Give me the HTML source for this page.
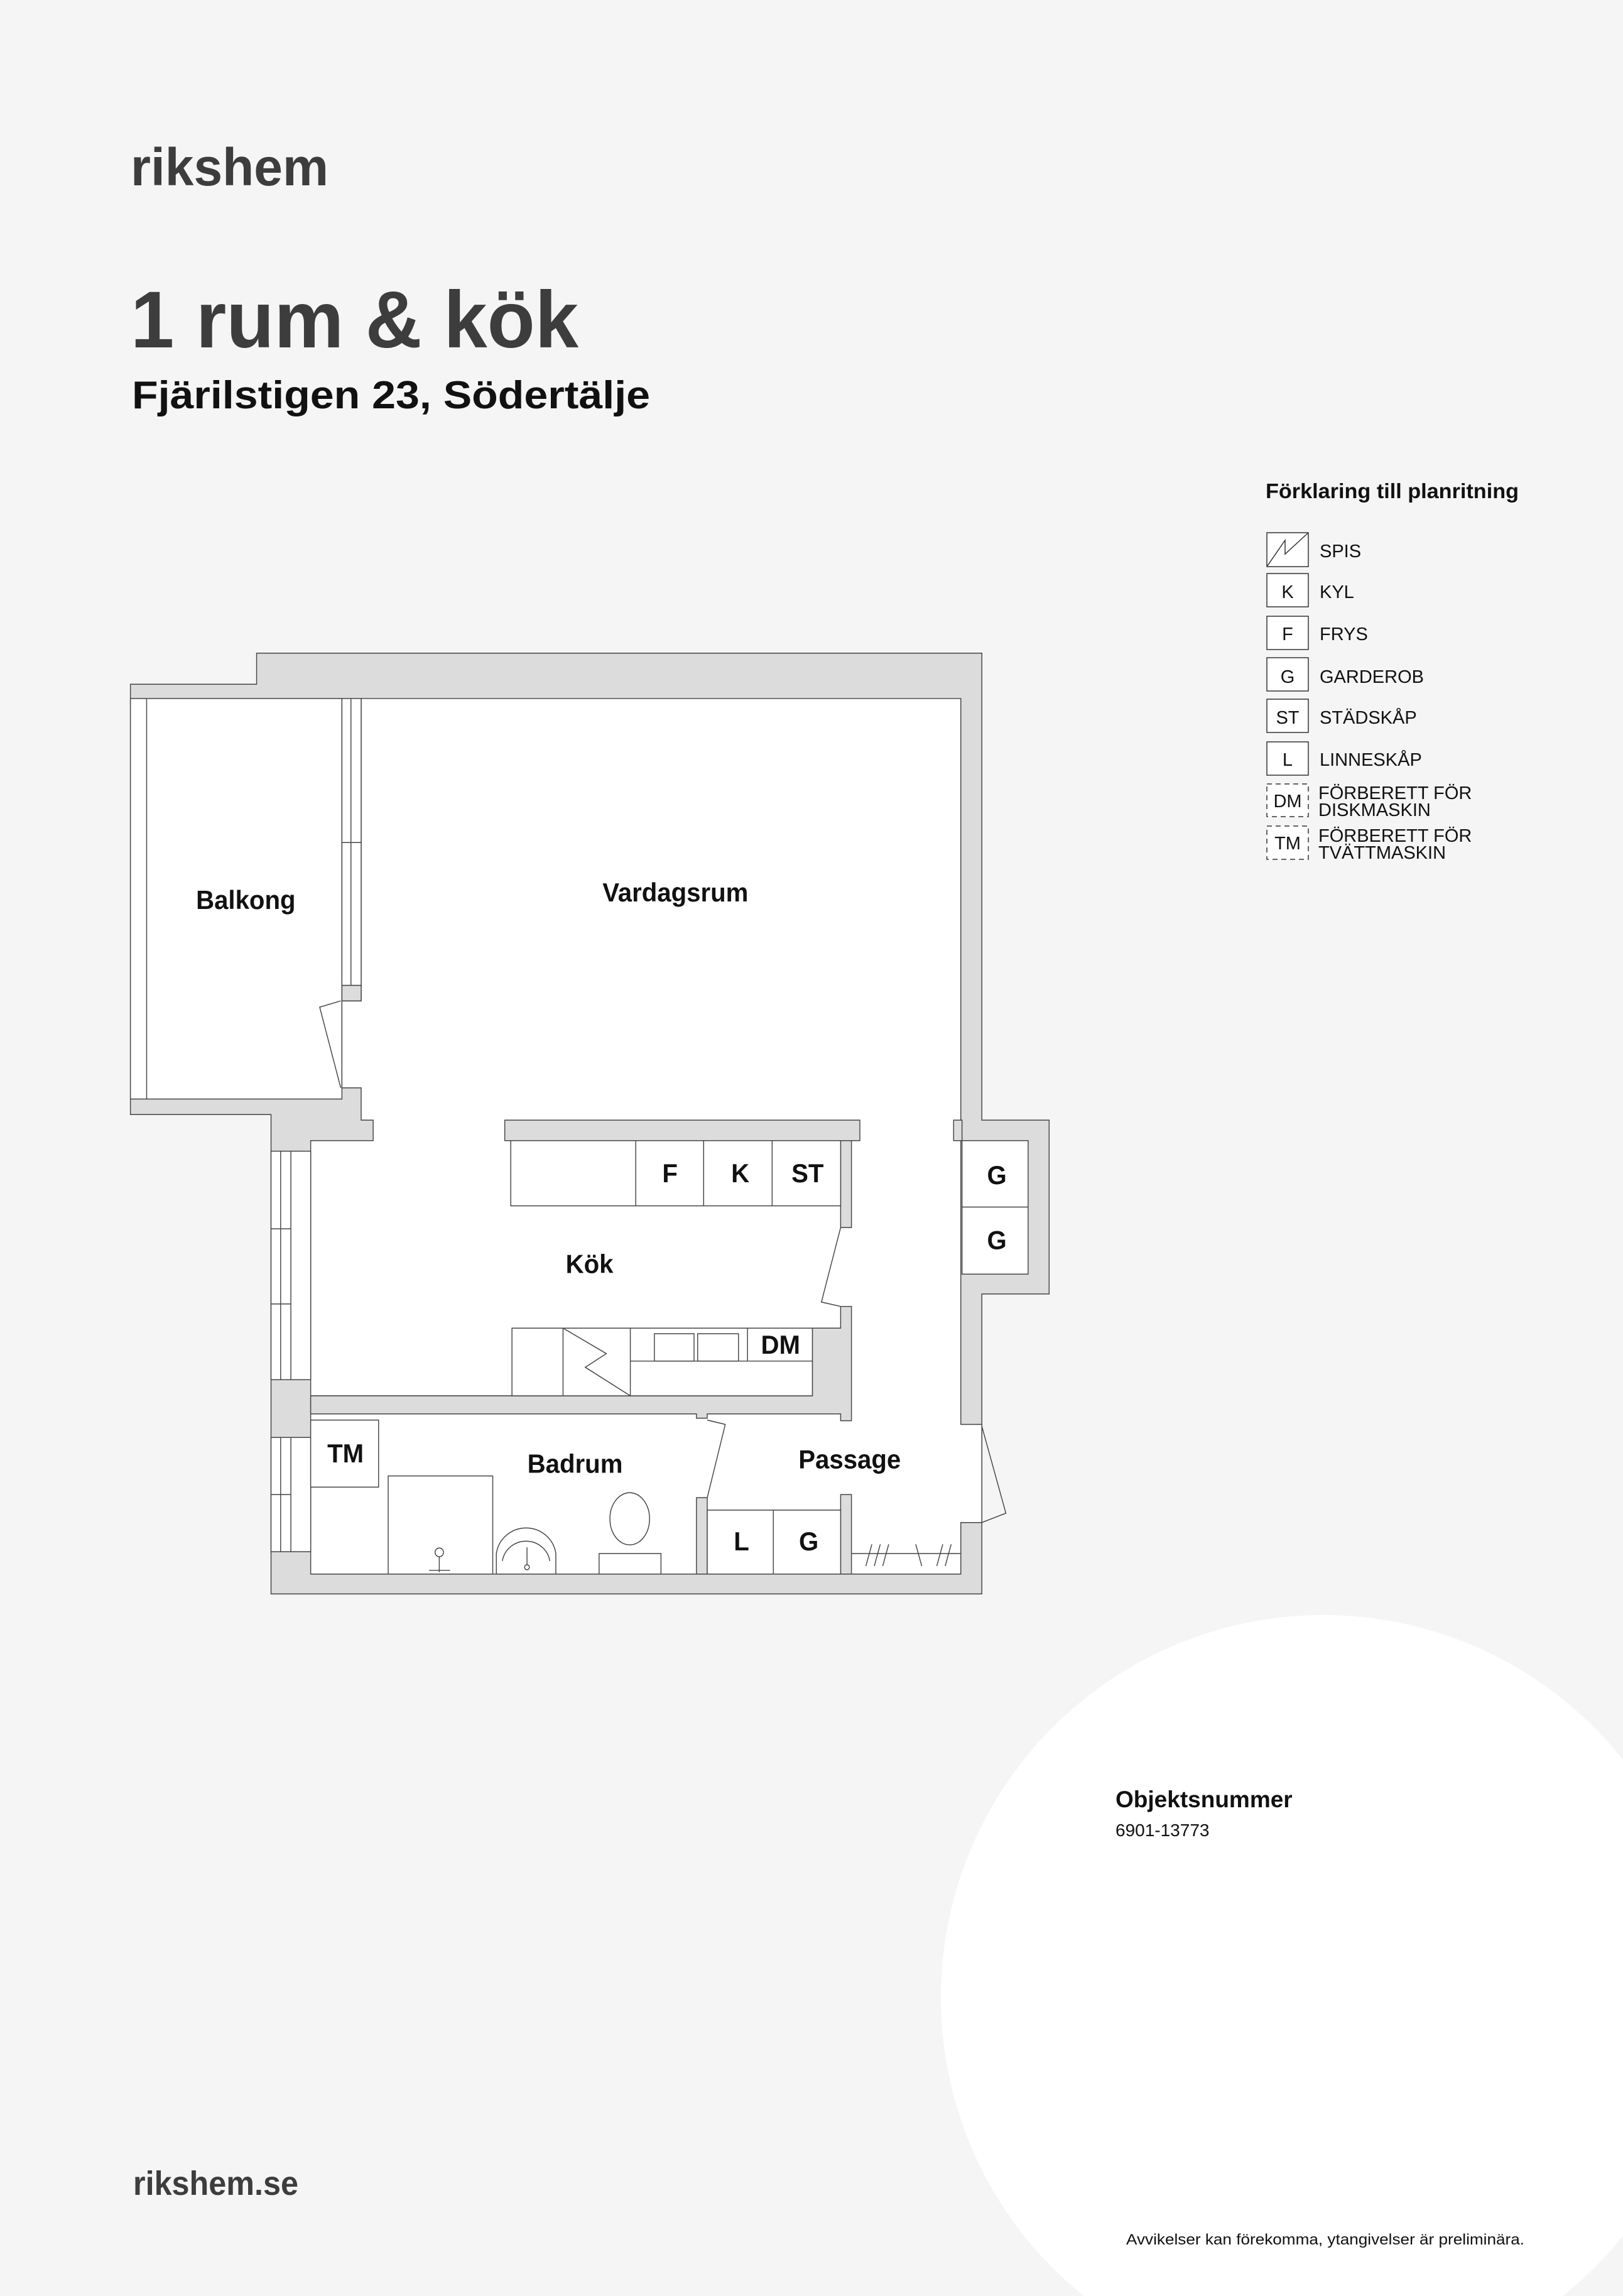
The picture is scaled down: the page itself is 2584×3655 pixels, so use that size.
<!DOCTYPE html>
<html><head><meta charset="utf-8"><style>
html,body{margin:0;padding:0;background:#f5f5f5;}
svg{display:block;}
</style></head><body>
<svg width="2584" height="3655" viewBox="0 0 2584 3655" xmlns="http://www.w3.org/2000/svg" font-family="'Liberation Sans', sans-serif">
<rect width="2584" height="3655" fill="#f5f5f5"/>
<circle cx="2107" cy="3180" r="609" fill="#ffffff"/>

<text x="208" y="295" font-size="84" font-weight="bold" fill="#3d3d3d" textLength="315" lengthAdjust="spacingAndGlyphs">rikshem</text>
<text x="208" y="553" font-size="128" font-weight="bold" fill="#3d3d3d" textLength="713" lengthAdjust="spacingAndGlyphs">1 rum &amp; kök</text>
<text x="210" y="650" font-size="62" font-weight="bold" fill="#111" textLength="825" lengthAdjust="spacingAndGlyphs">Fjärilstigen 23, Södertälje</text>

<text x="2015" y="793" font-size="33" font-weight="bold" fill="#111" textLength="403" lengthAdjust="spacingAndGlyphs">Förklaring till planritning</text>
<g fill="#fff" stroke="#333" stroke-width="1.5">
<rect x="2017" y="848" width="66" height="54"/>
<rect x="2017" y="913" width="66" height="53"/>
<rect x="2017" y="981" width="66" height="53"/>
<rect x="2017" y="1047" width="66" height="53"/>
<rect x="2017" y="1113" width="66" height="53"/>
<rect x="2017" y="1181" width="66" height="53"/>
<rect x="2017" y="1248" width="66" height="52" stroke-dasharray="8,6"/>
<rect x="2017" y="1315" width="66" height="53" stroke-dasharray="8,6"/>
</g>
<polyline points="2017,902 2046,860 2046,882 2083,848" fill="none" stroke="#333" stroke-width="1.5"/>
<g font-size="29" fill="#111" text-anchor="middle">
<text x="2050" y="952">K</text>
<text x="2050" y="1019">F</text>
<text x="2050" y="1087">G</text>
<text x="2050" y="1152">ST</text>
<text x="2050" y="1219">L</text>
<text x="2050" y="1285">DM</text>
<text x="2050" y="1352">TM</text>
</g>
<g font-size="29" fill="#111">
<text x="2101" y="887">SPIS</text>
<text x="2101" y="952">KYL</text>
<text x="2101" y="1019">FRYS</text>
<text x="2101" y="1087">GARDEROB</text>
<text x="2101" y="1152">STÄDSKÅP</text>
<text x="2101" y="1219">LINNESKÅP</text>
<text x="2099" y="1272">FÖRBERETT FÖR</text>
<text x="2099" y="1299">DISKMASKIN</text>
<text x="2099" y="1340">FÖRBERETT FÖR</text>
<text x="2099" y="1367">TVÄTTMASKIN</text>
</g>

<svg x="200" y="1020" width="1500" height="1550" viewBox="0 0 1568 1568" preserveAspectRatio="none">
<g stroke="#444" stroke-width="1.5">
<polygon fill="#dcdcdc" points="218,20 1425,20 1425,772 1537,772 1537,1052 1425,1052 1425,1535 242,1535 242,763 8,763 8,70 218,70"/>
<rect x="8" y="93" width="352" height="645" fill="#fff"/>
<line x1="35" y1="93" x2="35" y2="738"/>
<polygon fill="#fff" points="392,93 1390,93 1390,1262 1425,1262 1425,1420 1390,1420 1390,1503 308,1503 308,805 412,805 412,772 392,772 392,720 360,720 360,580 392,580"/>
<rect x="360" y="93" width="32" height="462" fill="#fff"/>
<line x1="375" y1="93" x2="375" y2="555"/>
<line x1="360" y1="325" x2="392" y2="325"/>
<rect x="360" y="555" width="32" height="25" fill="#dcdcdc"/>
<polyline fill="none" points="358,720 323,590 358,580"/>
<rect x="242" y="822" width="66" height="368" fill="#fff"/>
<line x1="258" y1="822" x2="258" y2="1190"/><line x1="275" y1="822" x2="275" y2="1190"/>
<line x1="242" y1="947" x2="275" y2="947"/><line x1="242" y1="1068" x2="275" y2="1068"/>
<rect x="242" y="1283" width="66" height="184" fill="#fff"/>
<line x1="258" y1="1283" x2="258" y2="1467"/><line x1="275" y1="1283" x2="275" y2="1467"/>
<line x1="242" y1="1375" x2="275" y2="1375"/>
<rect x="308" y="1216" width="835" height="29" fill="#dcdcdc"/>
<rect x="631" y="772" width="591" height="33" fill="#dcdcdc"/>
<rect x="1190" y="805" width="18" height="140" fill="#dcdcdc"/>
<polyline fill="none" points="1190,945 1158,1065 1190,1072"/>
<polygon fill="#dcdcdc" points="1190,1072 1208,1072 1208,1256 1190,1256 1190,1245 968,1245 968,1252 950,1252 950,1245 308,1245 308,1216 1143,1216 1143,1107 1190,1107"/>
<rect x="950" y="1380" width="18" height="123" fill="#dcdcdc"/>
<polyline fill="none" points="968,1380 998,1262 968,1255"/>
<rect x="1190" y="1375" width="18" height="128" fill="#dcdcdc"/>
<rect x="1378" y="772" width="14" height="33" fill="#dcdcdc"/>
<rect x="1392" y="805" width="110" height="215" fill="#fff"/>
<line x1="1392" y1="912" x2="1502" y2="912"/>
<polyline fill="none" points="1425,1265 1465,1405 1425,1420"/>
<rect x="641" y="805" width="549" height="105" fill="#fff"/>
<line x1="849" y1="805" x2="849" y2="910"/><line x1="962" y1="805" x2="962" y2="910"/><line x1="1076" y1="805" x2="1076" y2="910"/>
<rect x="643" y="1107" width="500" height="109" fill="#fff"/>
<line x1="728" y1="1107" x2="728" y2="1216"/><line x1="840" y1="1107" x2="840" y2="1216"/>
<line x1="840" y1="1160" x2="1143" y2="1160"/><line x1="1035" y1="1107" x2="1035" y2="1160"/>
<rect x="880" y="1116" width="66" height="44" fill="#fff"/><rect x="952" y="1116" width="68" height="44" fill="#fff"/>
<polyline fill="none" points="728,1107 800,1148 765,1170 840,1216"/>
<rect x="308" y="1255" width="113" height="108" fill="#fff"/>
<rect x="437" y="1345" width="174" height="158" fill="#fff"/>
<line x1="522" y1="1475" x2="522" y2="1500"/><circle cx="522" cy="1468" r="7" fill="#fff"/>
<line x1="505" y1="1497" x2="540" y2="1497"/>
<path d="M617,1503 L617,1470 A50,48 0 0 1 716,1470 L716,1503 Z" fill="#fff"/>
<path d="M627,1482 A40,38 0 0 1 706,1482" fill="none"/>
<line x1="668" y1="1460" x2="668" y2="1490"/><circle cx="668" cy="1492" r="4" fill="#fff"/>
<ellipse cx="839" cy="1414" rx="33" ry="42" fill="#fff"/>
<rect x="788" y="1470" width="103" height="33" fill="#fff"/>
<rect x="968" y="1400" width="222" height="103" fill="#fff"/>
<line x1="1078" y1="1400" x2="1078" y2="1503"/>
<line x1="1208" y1="1470" x2="1390" y2="1470"/>
<line x1="1232" y1="1490" x2="1242" y2="1455"/><line x1="1246" y1="1490" x2="1256" y2="1455"/><line x1="1260" y1="1490" x2="1270" y2="1455"/>
<line x1="1315" y1="1455" x2="1325" y2="1490"/><line x1="1350" y1="1490" x2="1360" y2="1455"/><line x1="1364" y1="1490" x2="1374" y2="1455"/>
</g>
<g font-size="42" font-weight="bold" fill="#111" text-anchor="middle">
<text x="200" y="432">Balkong</text>
<text x="915" y="420">Vardagsrum</text>
<text x="906" y="872">F</text><text x="1023" y="872">K</text><text x="1135" y="872">ST</text>
<text x="1450" y="875">G</text><text x="1450" y="980">G</text>
<text x="772" y="1018">Kök</text>
<text x="1090" y="1148">DM</text>
<text x="366" y="1323">TM</text>
<text x="748" y="1340">Badrum</text>
<text x="1205" y="1333">Passage</text>
<text x="1025" y="1465">L</text><text x="1137" y="1465">G</text>
</g>
</svg>

<text x="1776" y="2877" font-size="37" font-weight="bold" fill="#111">Objektsnummer</text>
<text x="1776" y="2923" font-size="28" fill="#111">6901-13773</text>
<text x="1793" y="3573" font-size="24" fill="#111" textLength="634" lengthAdjust="spacingAndGlyphs">Avvikelser kan förekomma, ytangivelser är preliminära.</text>
<text x="212" y="3494" font-size="54" font-weight="bold" fill="#3d3d3d" textLength="263" lengthAdjust="spacingAndGlyphs">rikshem.se</text>
</svg>
</body></html>
